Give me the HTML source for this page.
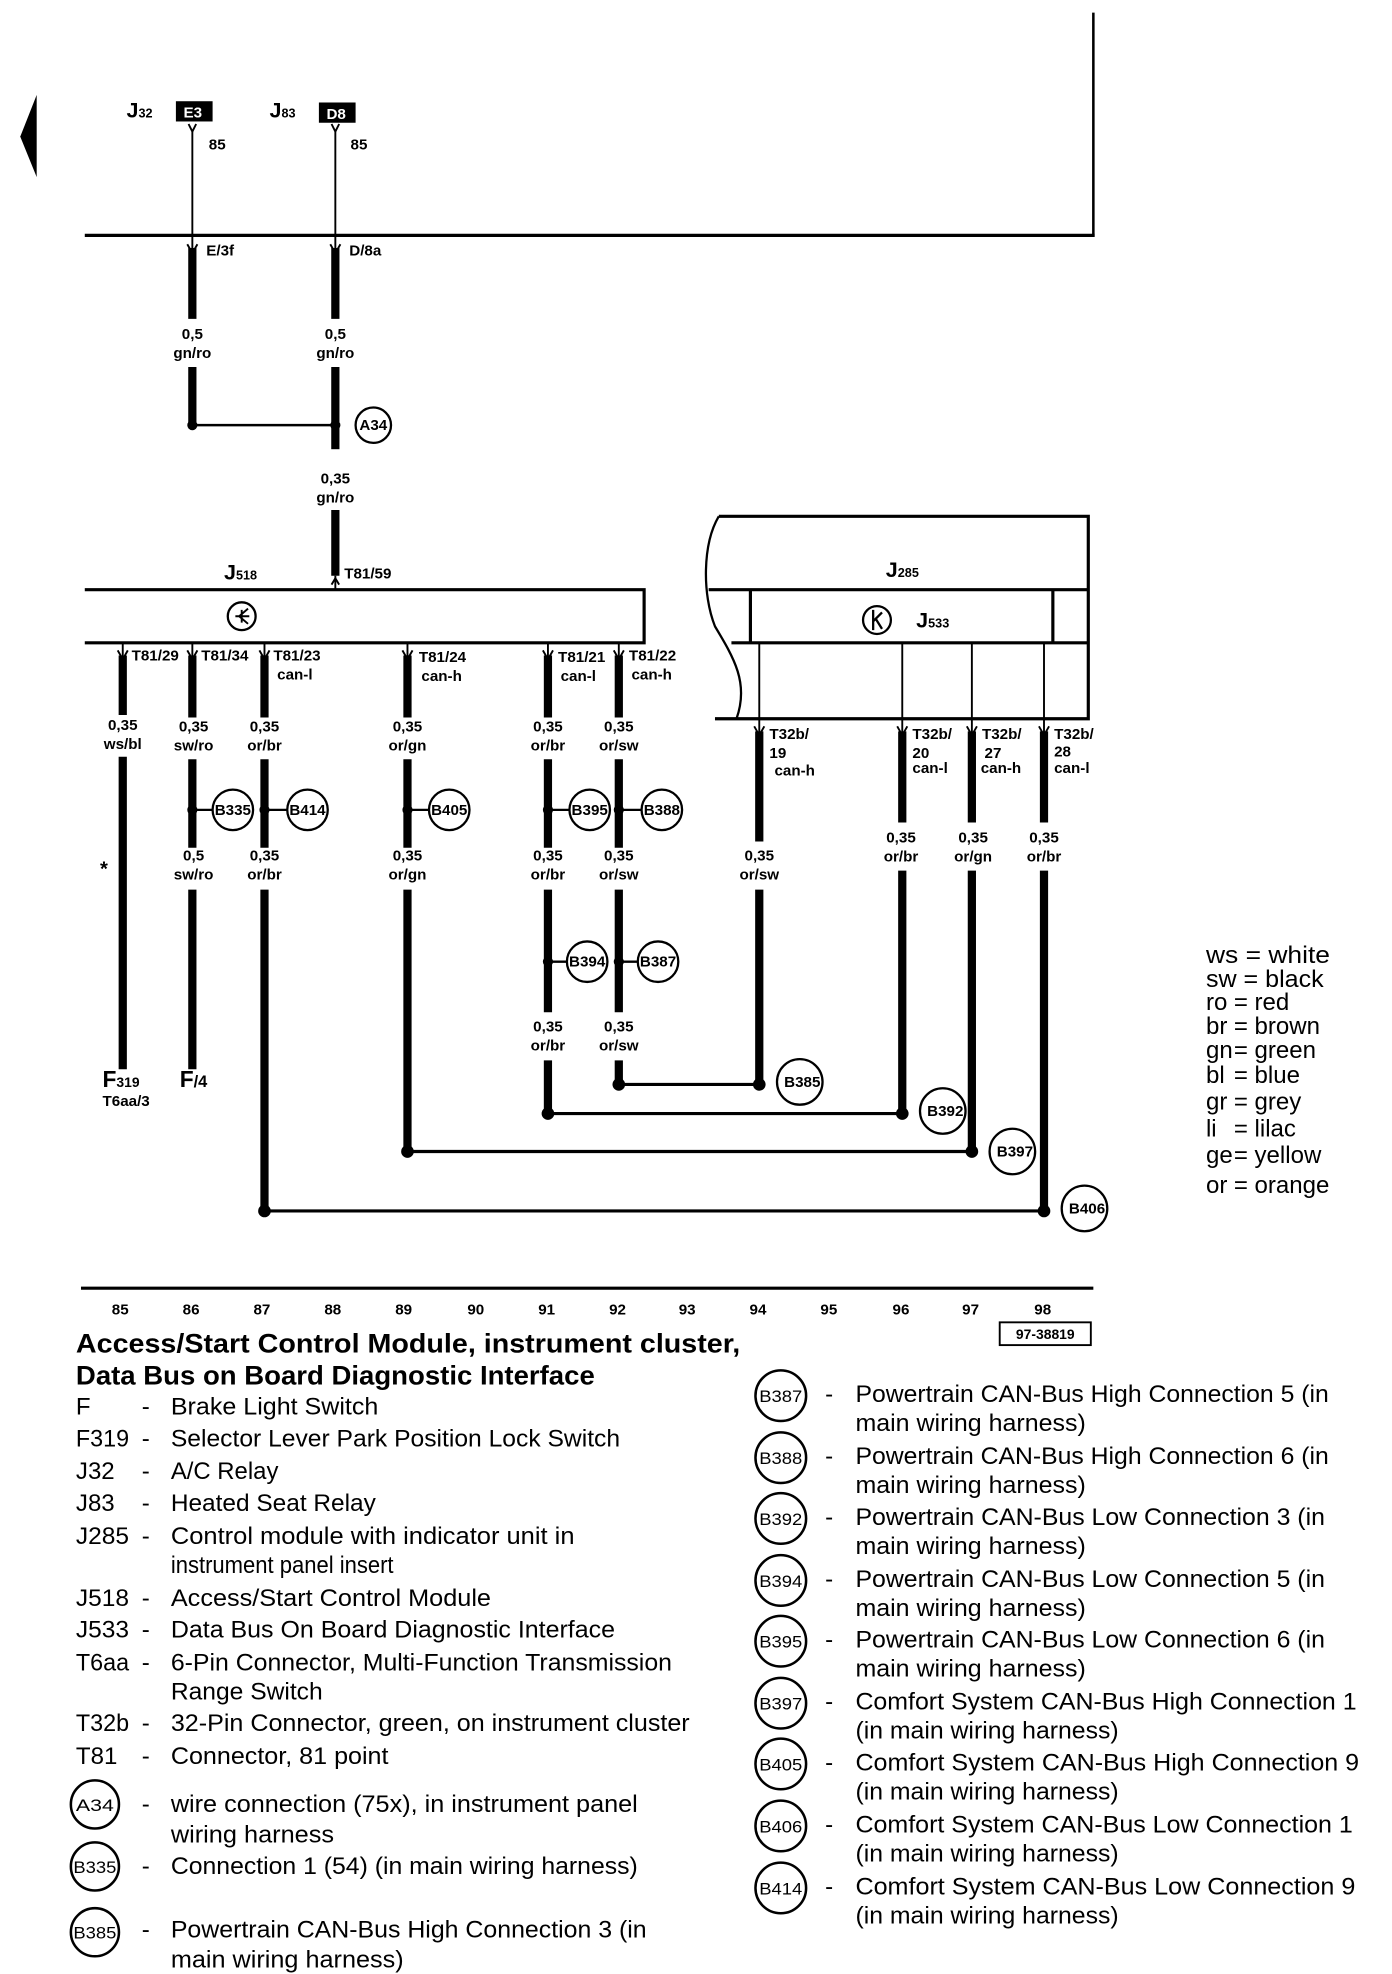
<!DOCTYPE html>
<html><head><meta charset="utf-8"><style>
html,body{margin:0;padding:0;background:#fff}
svg{display:block}
.b{font-family:"Liberation Sans",sans-serif;font-weight:bold;font-size:12px;fill:#000}
.n{font-family:"Liberation Sans",sans-serif;font-size:19px;fill:#000}
.t{font-family:"Liberation Sans",sans-serif;font-weight:bold;font-size:21px;fill:#000}
.c{font-family:"Liberation Sans",sans-serif;font-size:13px;fill:#000}
</style></head><body>
<svg width="1392" height="1974" viewBox="0 0 1100 1560" preserveAspectRatio="none" xmlns="http://www.w3.org/2000/svg">
<g stroke="#000" fill="none">
<line x1="864" y1="10" x2="864" y2="187" stroke-width="2"/>
<line x1="67" y1="186" x2="865" y2="186" stroke-width="2.5"/>
<polygon points="29,75 16,108 29,140" fill="#000" stroke="none"/>
<path d="M149,98 L152,104 L155,98" stroke-width="1.5"/>
<path d="M262,98 L265,104 L268,98" stroke-width="1.5"/>
<line x1="152" y1="104" x2="152" y2="200" stroke-width="1.5"/>
<line x1="265" y1="104" x2="265" y2="200" stroke-width="1.5"/>
<path d="M148,193 L152,200 L156,193" stroke-width="1.5"/>
<path d="M261,193 L265,200 L269,193" stroke-width="1.5"/>
<g stroke-width="6.5">
<line x1="152" y1="196" x2="152" y2="252"/>
<line x1="265" y1="196" x2="265" y2="252"/>
<line x1="152" y1="290" x2="152" y2="336"/>
<line x1="265" y1="290" x2="265" y2="336"/>
<line x1="265" y1="336" x2="265" y2="355"/>
<line x1="265" y1="403" x2="265" y2="455"/>
</g>
<line x1="152" y1="336" x2="265" y2="336" stroke-width="2"/>
<line x1="265" y1="455" x2="265" y2="466" stroke-width="1.5"/>
<path d="M262,462 L265,457 L268,462" stroke-width="1.5"/>
<circle cx="295" cy="336" r="14" stroke-width="1.8"/>
<path d="M67,466 H509 V508 H67" stroke-width="2.5"/>
<circle cx="191" cy="487" r="11" stroke-width="1.8"/>
<path d="M186,487 H197 M191,482 V492 M189,487 L196,481 M189,487 L196,493" stroke-width="1.5"/>
<path d="M568,408 H860 V568 H565" stroke-width="2.5"/>
<path d="M568,408 C555,430 555,470 565,495 C580,520 592,540 582,568" stroke-width="1.8"/>
<line x1="560" y1="466" x2="860" y2="466" stroke-width="2.5"/>
<line x1="578" y1="508" x2="860" y2="508" stroke-width="2.5"/>
<line x1="593" y1="466" x2="593" y2="508" stroke-width="2.5"/>
<line x1="832" y1="466" x2="832" y2="508" stroke-width="2.5"/>
<g stroke-width="1.5">
<line x1="600" y1="508" x2="600" y2="568"/>
<line x1="713" y1="508" x2="713" y2="568"/>
<line x1="768" y1="508" x2="768" y2="568"/>
<line x1="825" y1="508" x2="825" y2="568"/>
</g>
<circle cx="693" cy="490" r="11" stroke-width="1.8"/>
<path d="M690,482 V498 M690,491 L697,484 M692,489 L697,497" stroke-width="1.8"/>
<g stroke-width="1.5">
<path d="M93,514 L97,521 L101,514"/><path d="M148,514 L152,521 L156,514"/><path d="M205,514 L209,521 L213,514"/>
<path d="M318,514 L322,521 L326,514"/><path d="M429,514 L433,521 L437,514"/><path d="M485,514 L489,521 L493,514"/>
<path d="M596,574 L600,581 L604,574"/><path d="M709,574 L713,581 L717,574"/><path d="M764,574 L768,581 L772,574"/><path d="M821,574 L825,581 L829,574"/>
<line x1="97" y1="508" x2="97" y2="520"/><line x1="152" y1="508" x2="152" y2="520"/><line x1="209" y1="508" x2="209" y2="520"/>
<line x1="322" y1="508" x2="322" y2="520"/><line x1="433" y1="508" x2="433" y2="520"/><line x1="489" y1="508" x2="489" y2="520"/>
<line x1="600" y1="568" x2="600" y2="580"/><line x1="713" y1="568" x2="713" y2="580"/><line x1="768" y1="568" x2="768" y2="580"/><line x1="825" y1="568" x2="825" y2="580"/>
</g>
<g stroke-width="6.5">
<line x1="97" y1="518" x2="97" y2="565"/><line x1="97" y1="598" x2="97" y2="845"/>
<line x1="152" y1="518" x2="152" y2="567"/><line x1="152" y1="600" x2="152" y2="670"/><line x1="152" y1="703" x2="152" y2="845"/>
<line x1="209" y1="518" x2="209" y2="567"/><line x1="209" y1="600" x2="209" y2="670"/><line x1="209" y1="703" x2="209" y2="957"/>
<line x1="322" y1="518" x2="322" y2="567"/><line x1="322" y1="600" x2="322" y2="670"/><line x1="322" y1="703" x2="322" y2="910"/>
<line x1="433" y1="518" x2="433" y2="567"/><line x1="433" y1="600" x2="433" y2="670"/><line x1="433" y1="703" x2="433" y2="800"/><line x1="433" y1="838" x2="433" y2="880"/>
<line x1="489" y1="518" x2="489" y2="567"/><line x1="489" y1="600" x2="489" y2="670"/><line x1="489" y1="703" x2="489" y2="800"/><line x1="489" y1="838" x2="489" y2="857"/>
<line x1="600" y1="578" x2="600" y2="665"/><line x1="600" y1="703" x2="600" y2="857"/>
<line x1="713" y1="578" x2="713" y2="650"/><line x1="713" y1="688" x2="713" y2="880"/>
<line x1="768" y1="578" x2="768" y2="650"/><line x1="768" y1="688" x2="768" y2="910"/>
<line x1="825" y1="578" x2="825" y2="650"/><line x1="825" y1="688" x2="825" y2="957"/>
</g>
<g stroke-width="2.5">
<line x1="489" y1="857" x2="600" y2="857"/>
<line x1="433" y1="880" x2="713" y2="880"/>
<line x1="322" y1="910" x2="768" y2="910"/>
<line x1="209" y1="957" x2="825" y2="957"/>
</g>
<g stroke-width="1.8">
<circle cx="184" cy="640" r="16"/><circle cx="243" cy="640" r="16"/><circle cx="355" cy="640" r="16"/>
<circle cx="466" cy="640" r="16"/><circle cx="523" cy="640" r="16"/>
<circle cx="464" cy="760" r="16"/><circle cx="520" cy="760" r="16"/>
<circle cx="632" cy="855" r="18"/><circle cx="745" cy="878" r="18"/><circle cx="800" cy="910" r="18"/><circle cx="857" cy="955" r="18"/>
<line x1="152" y1="640" x2="168" y2="640"/><line x1="209" y1="640" x2="227" y2="640"/><line x1="322" y1="640" x2="339" y2="640"/>
<line x1="433" y1="640" x2="450" y2="640"/><line x1="489" y1="640" x2="507" y2="640"/>
<line x1="433" y1="760" x2="448" y2="760"/><line x1="489" y1="760" x2="504" y2="760"/>
</g>
<line x1="64" y1="1018" x2="864" y2="1018" stroke-width="2.5"/>
<rect x="790" y="1045" width="72" height="18" stroke-width="1.5"/>
<g stroke-width="2">
<circle cx="75" cy="1426" r="19"/><circle cx="75" cy="1475" r="19"/><circle cx="75" cy="1527" r="19"/>
<circle cx="617" cy="1103" r="20"/><circle cx="617" cy="1152" r="20"/><circle cx="617" cy="1200" r="20"/>
<circle cx="617" cy="1249" r="20"/><circle cx="617" cy="1297" r="20"/><circle cx="617" cy="1346" r="20"/>
<circle cx="617" cy="1394" r="20"/><circle cx="617" cy="1443" r="20"/><circle cx="617" cy="1492" r="20"/>
</g>
</g>
<g fill="#000">
<circle cx="152" cy="336" r="4"/><circle cx="265" cy="336" r="4"/>
<circle cx="152" cy="640" r="4"/><circle cx="209" cy="640" r="4"/><circle cx="322" cy="640" r="4"/><circle cx="433" cy="640" r="4"/><circle cx="489" cy="640" r="4"/>
<circle cx="433" cy="760" r="4"/><circle cx="489" cy="760" r="4"/>
<circle cx="489" cy="857" r="5"/><circle cx="600" cy="857" r="5"/><circle cx="433" cy="880" r="5"/><circle cx="713" cy="880" r="5"/>
<circle cx="322" cy="910" r="5"/><circle cx="768" cy="910" r="5"/><circle cx="209" cy="957" r="5"/><circle cx="825" cy="957" r="5"/>
<rect x="139" y="80" width="29" height="16"/><rect x="252" y="81" width="29" height="16"/>
</g>
<text x="100" y="93" style="font-family:'Liberation Sans',sans-serif;font-weight:bold;font-size:17px">J<tspan font-size="10">32</tspan></text>
<text x="213" y="93" style="font-family:'Liberation Sans',sans-serif;font-weight:bold;font-size:17px">J<tspan font-size="10">83</tspan></text>
<text x="145" y="93" class="b" style="fill:#fff">E3</text>
<text x="258" y="94" class="b" style="fill:#fff">D8</text>
<text x="165" y="118" class="b">85</text><text x="277" y="118" class="b">85</text>
<text x="163" y="202" class="b">E/3f</text><text x="276" y="202" class="b">D/8a</text>
<text x="152" y="268" class="b" text-anchor="middle">0,5</text><text x="152" y="283" class="b" text-anchor="middle">gn/ro</text>
<text x="265" y="268" class="b" text-anchor="middle">0,5</text><text x="265" y="283" class="b" text-anchor="middle">gn/ro</text>
<text x="295" y="340" class="b" text-anchor="middle" font-size="10">A34</text>
<text x="265" y="382" class="b" text-anchor="middle">0,35</text><text x="265" y="397" class="b" text-anchor="middle">gn/ro</text>
<text x="272" y="457" class="b">T81/59</text>
<text x="177" y="458" style="font-family:'Liberation Sans',sans-serif;font-weight:bold;font-size:17px">J<tspan font-size="10">518</tspan></text>
<text x="700" y="456" style="font-family:'Liberation Sans',sans-serif;font-weight:bold;font-size:17px">J<tspan font-size="10">285</tspan></text>
<text x="724" y="496" style="font-family:'Liberation Sans',sans-serif;font-weight:bold;font-size:17px">J<tspan font-size="10">533</tspan></text>
<text x="104" y="522" class="b">T81/29</text><text x="159" y="522" class="b">T81/34</text><text x="216" y="522" class="b">T81/23</text>
<text x="219" y="537" class="b">can-l</text>
<text x="331" y="523" class="b">T81/24</text><text x="333" y="538" class="b">can-h</text>
<text x="441" y="523" class="b">T81/21</text><text x="443" y="538" class="b">can-l</text>
<text x="497" y="522" class="b">T81/22</text><text x="499" y="537" class="b">can-h</text>
<g class="b" text-anchor="middle">
<text x="97" y="577">0,35</text><text x="97" y="592">ws/bl</text>
<text x="153" y="578">0,35</text><text x="153" y="593">sw/ro</text>
<text x="209" y="578">0,35</text><text x="209" y="593">or/br</text>
<text x="322" y="578">0,35</text><text x="322" y="593">or/gn</text>
<text x="433" y="578">0,35</text><text x="433" y="593">or/br</text>
<text x="489" y="578">0,35</text><text x="489" y="593">or/sw</text>
<text x="153" y="680">0,5</text><text x="153" y="695">sw/ro</text>
<text x="209" y="680">0,35</text><text x="209" y="695">or/br</text>
<text x="322" y="680">0,35</text><text x="322" y="695">or/gn</text>
<text x="433" y="680">0,35</text><text x="433" y="695">or/br</text>
<text x="489" y="680">0,35</text><text x="489" y="695">or/sw</text>
<text x="600" y="680">0,35</text><text x="600" y="695">or/sw</text>
<text x="712" y="666">0,35</text><text x="712" y="681">or/br</text>
<text x="769" y="666">0,35</text><text x="769" y="681">or/gn</text>
<text x="825" y="666">0,35</text><text x="825" y="681">or/br</text>
<text x="433" y="815">0,35</text><text x="433" y="830">or/br</text>
<text x="489" y="815">0,35</text><text x="489" y="830">or/sw</text>
</g>
<g class="b" font-size="10" text-anchor="middle">
<text x="184" y="644">B335</text><text x="243" y="644">B414</text><text x="355" y="644">B405</text>
<text x="466" y="644">B395</text><text x="523" y="644">B388</text>
<text x="464" y="764">B394</text><text x="520" y="764">B387</text>
<text x="634" y="859">B385</text><text x="747" y="882">B392</text><text x="802" y="914">B397</text><text x="859" y="959">B406</text>
</g>
<text x="608" y="584" class="b">T32b/</text><text x="608" y="599" class="b">19</text><text x="612" y="613" class="b">can-h</text>
<text x="721" y="584" class="b">T32b/</text><text x="721" y="599" class="b">20</text><text x="721" y="611" class="b">can-l</text>
<text x="776" y="584" class="b">T32b/</text><text x="778" y="599" class="b">27</text><text x="775" y="611" class="b">can-h</text>
<text x="833" y="584" class="b">T32b/</text><text x="833" y="598" class="b">28</text><text x="833" y="611" class="b">can-l</text>
<text x="79" y="692" style="font-family:'Liberation Sans',sans-serif;font-weight:bold;font-size:16px">*</text>
<text x="81" y="859" style="font-family:'Liberation Sans',sans-serif;font-weight:bold;font-size:18px">F<tspan font-size="11">319</tspan></text>
<text x="81" y="874" class="b">T6aa/3</text>
<text x="142" y="859" style="font-family:'Liberation Sans',sans-serif;font-weight:bold;font-size:18px">F<tspan font-size="13">/4</tspan></text>
<g class="b" text-anchor="middle">
<text x="95" y="1039">85</text><text x="151" y="1039">86</text><text x="207" y="1039">87</text><text x="263" y="1039">88</text>
<text x="319" y="1039">89</text><text x="376" y="1039">90</text><text x="432" y="1039">91</text><text x="488" y="1039">92</text>
<text x="543" y="1039">93</text><text x="599" y="1039">94</text><text x="655" y="1039">95</text><text x="712" y="1039">96</text>
<text x="767" y="1039">97</text><text x="824" y="1039">98</text>
<text x="826" y="1058" font-size="11">97-38819</text>
</g>
<g class="n" font-size="18">
<text x="953" y="761" textLength="98" lengthAdjust="spacingAndGlyphs">ws = white</text>
<text x="953" y="780" textLength="93" lengthAdjust="spacingAndGlyphs">sw = black</text>
<text x="953" y="798">ro</text><text x="975" y="798">= red</text>
<text x="953" y="817">br</text><text x="975" y="817">= brown</text>
<text x="953" y="836">gn</text><text x="975" y="836">= green</text>
<text x="953" y="856">bl</text><text x="975" y="856">= blue</text>
<text x="953" y="877">gr</text><text x="975" y="877">= grey</text>
<text x="953" y="898">li</text><text x="975" y="898">= lilac</text>
<text x="953" y="919">ge</text><text x="975" y="919">= yellow</text>
<text x="953" y="943">or</text><text x="975" y="943">= orange</text>
</g>
<text x="60" y="1069" class="t" textLength="525" lengthAdjust="spacingAndGlyphs">Access/Start Control Module, instrument cluster,</text>
<text x="60" y="1094" class="t" textLength="410" lengthAdjust="spacingAndGlyphs">Data Bus on Board Diagnostic Interface</text>
<g class="n">
<text x="60" y="1118">F</text><text x="112" y="1118">-</text><text x="135" y="1118" textLength="164" lengthAdjust="spacingAndGlyphs">Brake Light Switch</text>
<text x="60" y="1143" textLength="42" lengthAdjust="spacingAndGlyphs">F319</text><text x="112" y="1143">-</text><text x="135" y="1143" textLength="355" lengthAdjust="spacingAndGlyphs">Selector Lever Park Position Lock Switch</text>
<text x="60" y="1169">J32</text><text x="112" y="1169">-</text><text x="135" y="1169" textLength="85" lengthAdjust="spacingAndGlyphs">A/C Relay</text>
<text x="60" y="1194">J83</text><text x="112" y="1194">-</text><text x="135" y="1194" textLength="162" lengthAdjust="spacingAndGlyphs">Heated Seat Relay</text>
<text x="60" y="1220" textLength="42" lengthAdjust="spacingAndGlyphs">J285</text><text x="112" y="1220">-</text><text x="135" y="1220" textLength="319" lengthAdjust="spacingAndGlyphs">Control module with indicator unit in</text>
<text x="135" y="1243" textLength="176" lengthAdjust="spacingAndGlyphs">instrument panel insert</text>
<text x="60" y="1269" textLength="42" lengthAdjust="spacingAndGlyphs">J518</text><text x="112" y="1269">-</text><text x="135" y="1269" textLength="253" lengthAdjust="spacingAndGlyphs">Access/Start Control Module</text>
<text x="60" y="1294" textLength="42" lengthAdjust="spacingAndGlyphs">J533</text><text x="112" y="1294">-</text><text x="135" y="1294" textLength="351" lengthAdjust="spacingAndGlyphs">Data Bus On Board Diagnostic Interface</text>
<text x="60" y="1320" textLength="42" lengthAdjust="spacingAndGlyphs">T6aa</text><text x="112" y="1320">-</text><text x="135" y="1320" textLength="396" lengthAdjust="spacingAndGlyphs">6-Pin Connector, Multi-Function Transmission</text>
<text x="135" y="1343" textLength="120" lengthAdjust="spacingAndGlyphs">Range Switch</text>
<text x="60" y="1368" textLength="42" lengthAdjust="spacingAndGlyphs">T32b</text><text x="112" y="1368">-</text><text x="135" y="1368" textLength="410" lengthAdjust="spacingAndGlyphs">32-Pin Connector, green, on instrument cluster</text>
<text x="60" y="1394">T81</text><text x="112" y="1394">-</text><text x="135" y="1394" textLength="172" lengthAdjust="spacingAndGlyphs">Connector, 81 point</text>
<text x="112" y="1432">-</text><text x="135" y="1432" textLength="369" lengthAdjust="spacingAndGlyphs">wire connection (75x), in instrument panel</text>
<text x="135" y="1456" textLength="129" lengthAdjust="spacingAndGlyphs">wiring harness</text>
<text x="112" y="1481">-</text><text x="135" y="1481" textLength="369" lengthAdjust="spacingAndGlyphs">Connection 1 (54) (in main wiring harness)</text>
<text x="112" y="1531">-</text><text x="135" y="1531" textLength="376" lengthAdjust="spacingAndGlyphs">Powertrain CAN-Bus High Connection 3 (in</text>
<text x="135" y="1555" textLength="184" lengthAdjust="spacingAndGlyphs">main wiring harness)</text>
</g>
<g class="c" text-anchor="middle">
<text x="75" y="1431" textLength="30" lengthAdjust="spacingAndGlyphs">A34</text>
<text x="75" y="1480" textLength="34" lengthAdjust="spacingAndGlyphs">B335</text>
<text x="75" y="1532" textLength="34" lengthAdjust="spacingAndGlyphs">B385</text>
<text x="617" y="1108" textLength="34" lengthAdjust="spacingAndGlyphs">B387</text>
<text x="617" y="1157" textLength="34" lengthAdjust="spacingAndGlyphs">B388</text>
<text x="617" y="1205" textLength="34" lengthAdjust="spacingAndGlyphs">B392</text>
<text x="617" y="1254" textLength="34" lengthAdjust="spacingAndGlyphs">B394</text>
<text x="617" y="1302" textLength="34" lengthAdjust="spacingAndGlyphs">B395</text>
<text x="617" y="1351" textLength="34" lengthAdjust="spacingAndGlyphs">B397</text>
<text x="617" y="1399" textLength="34" lengthAdjust="spacingAndGlyphs">B405</text>
<text x="617" y="1448" textLength="34" lengthAdjust="spacingAndGlyphs">B406</text>
<text x="617" y="1497" textLength="34" lengthAdjust="spacingAndGlyphs">B414</text>
</g>
<g class="n">
<text x="652" y="1108">-</text><text x="676" y="1108" textLength="374" lengthAdjust="spacingAndGlyphs">Powertrain CAN-Bus High Connection 5 (in</text>
<text x="676" y="1131" textLength="182" lengthAdjust="spacingAndGlyphs">main wiring harness)</text>
<text x="652" y="1157">-</text><text x="676" y="1157" textLength="374" lengthAdjust="spacingAndGlyphs">Powertrain CAN-Bus High Connection 6 (in</text>
<text x="676" y="1180" textLength="182" lengthAdjust="spacingAndGlyphs">main wiring harness)</text>
<text x="652" y="1205">-</text><text x="676" y="1205" textLength="371" lengthAdjust="spacingAndGlyphs">Powertrain CAN-Bus Low Connection 3 (in</text>
<text x="676" y="1228" textLength="182" lengthAdjust="spacingAndGlyphs">main wiring harness)</text>
<text x="652" y="1254">-</text><text x="676" y="1254" textLength="371" lengthAdjust="spacingAndGlyphs">Powertrain CAN-Bus Low Connection 5 (in</text>
<text x="676" y="1277" textLength="182" lengthAdjust="spacingAndGlyphs">main wiring harness)</text>
<text x="652" y="1302">-</text><text x="676" y="1302" textLength="371" lengthAdjust="spacingAndGlyphs">Powertrain CAN-Bus Low Connection 6 (in</text>
<text x="676" y="1325" textLength="182" lengthAdjust="spacingAndGlyphs">main wiring harness)</text>
<text x="652" y="1351">-</text><text x="676" y="1351" textLength="396" lengthAdjust="spacingAndGlyphs">Comfort System CAN-Bus High Connection 1</text>
<text x="676" y="1374" textLength="208" lengthAdjust="spacingAndGlyphs">(in main wiring harness)</text>
<text x="652" y="1399">-</text><text x="676" y="1399" textLength="398" lengthAdjust="spacingAndGlyphs">Comfort System CAN-Bus High Connection 9</text>
<text x="676" y="1422" textLength="208" lengthAdjust="spacingAndGlyphs">(in main wiring harness)</text>
<text x="652" y="1448">-</text><text x="676" y="1448" textLength="393" lengthAdjust="spacingAndGlyphs">Comfort System CAN-Bus Low Connection 1</text>
<text x="676" y="1471" textLength="208" lengthAdjust="spacingAndGlyphs">(in main wiring harness)</text>
<text x="652" y="1497">-</text><text x="676" y="1497" textLength="395" lengthAdjust="spacingAndGlyphs">Comfort System CAN-Bus Low Connection 9</text>
<text x="676" y="1520" textLength="208" lengthAdjust="spacingAndGlyphs">(in main wiring harness)</text>
</g>
</svg>
</body></html>
